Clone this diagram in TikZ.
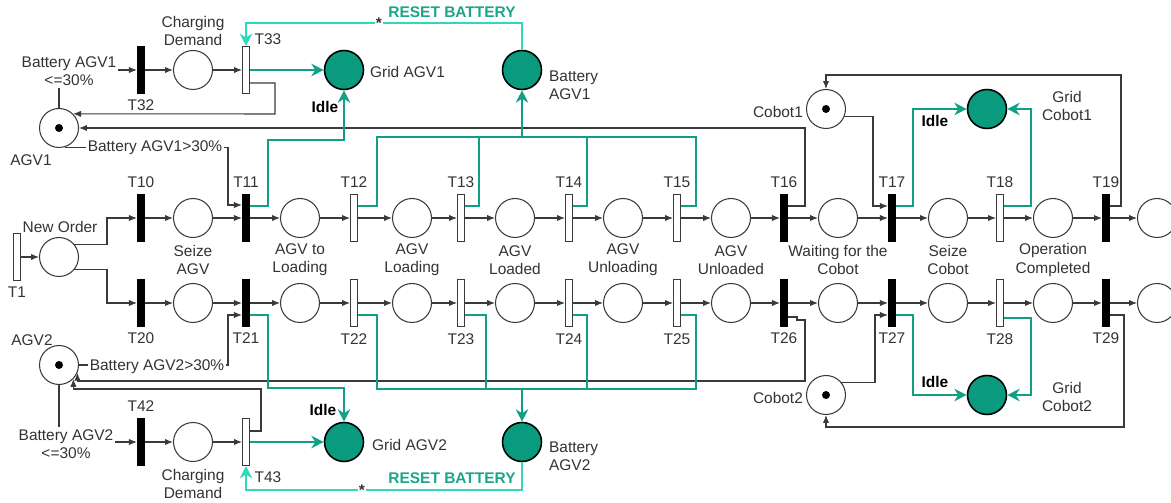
\documentclass[tikz,border=0pt]{standalone}
\usepackage{fontspec}
\setmainfont{Liberation Sans}
\usetikzlibrary{arrows.meta,positioning}
\definecolor{linec}{HTML}{3A3A3A}
\definecolor{textc}{HTML}{333333}
\definecolor{tealc}{HTML}{119F85}
\definecolor{gridc}{HTML}{0A9A7D}
\definecolor{resetc}{HTML}{2FD8B8}
\definecolor{resettxt}{HTML}{1BA68A}
\newcommand{\lbfont}{\fontsize{8.8}{10.3}\selectfont}

\begin{document}
\begin{tikzpicture}[x=0.02cm, y=-0.02cm,
  pnode/.style={circle, draw=linec, line width=0.6pt, fill=white, minimum size=0.78cm, inner sep=0pt},
  gnode/.style={circle, draw=black, line width=0.9pt, fill=gridc, minimum size=0.78cm, inner sep=0pt},
  tbar/.style={rectangle, draw=black, fill=black, minimum width=0.15cm, minimum height=0.94cm, inner sep=0pt},
  obar/.style={rectangle, draw=linec, line width=0.6pt, fill=white, minimum width=0.14cm, minimum height=0.94cm, inner sep=0pt},
  every label/.style={font=\lbfont, text=textc},
  lbl/.style={font=\lbfont, text=textc, align=center, inner sep=1pt},
  idle/.style={font=\lbfont\bfseries, text=black, inner sep=1pt},
  arr/.style={-{Latex[length=4.5pt,width=3.6pt]}, linec, line width=0.6pt},
  lnk/.style={linec, line width=0.6pt},
  tarr/.style={-{Stealth[length=7pt,width=7pt,inset=2.2pt]}, tealc, line width=1.3pt},
  tlink/.style={tealc, line width=1.3pt},
  rarr/.style={-{Stealth[length=7pt,width=7pt,inset=2.2pt]}, resetc, line width=1.4pt}
]
  \useasboundingbox (0,0) rectangle (1171,503);
  \clip (0,0) rectangle (1171,503);

  % order start
  \node[obar, label=below:T1] (T1) at (17,257) {};
  \node[pnode] (pNew) at (59,257) {};
  \node[lbl] (lNew) at (60,227) {New Order};

  % first AGV row
  \node[tbar, label=above:T10] (T10) at (141,218) {};
  \node[pnode] (pSeize1) at (193,218) {};
  \node[tbar, label=above:T11] (T11) at (246,218) {};
  \node[pnode] (pToLoad1) at (300,218) {};
  \node[obar, label=above:T12] (T12) at (354,218) {};
  \node[pnode] (pLoading1) at (412,218) {};
  \node[obar, label=above:T13] (T13) at (461,218) {};
  \node[pnode] (pLoaded1) at (515,218) {};
  \node[obar, label=above:T14] (T14) at (569,218) {};
  \node[pnode] (pUnloading1) at (623,218) {};
  \node[obar, label=above:T15] (T15) at (677,218) {};
  \node[pnode] (pUnloaded1) at (731,218) {};
  \node[tbar, label=above:T16] (T16) at (784,218) {};
  \node[pnode] (pWait1) at (838,218) {};
  \node[tbar, label=above:T17] (T17) at (892,218) {};
  \node[pnode] (pSeizeC1) at (948,218) {};
  \node[obar, label=above:T18] (T18) at (1000,218) {};
  \node[pnode] (pDone1) at (1053,218) {};
  \node[tbar, label=above:T19] (T19) at (1106,218) {};
  \node[pnode] (pEnd1) at (1157,218) {};

  % second AGV row
  \node[tbar, label=below:T20] (T20) at (141,303) {};
  \node[pnode] (pSeize2) at (193,303) {};
  \node[tbar, label=below:T21] (T21) at (246,303) {};
  \node[pnode] (pToLoad2) at (300,303) {};
  \node[obar, label=below:T22] (T22) at (354,303) {};
  \node[pnode] (pLoading2) at (412,303) {};
  \node[obar, label=below:T23] (T23) at (461,303) {};
  \node[pnode] (pLoaded2) at (515,303) {};
  \node[obar, label=below:T24] (T24) at (569,303) {};
  \node[pnode] (pUnloading2) at (623,303) {};
  \node[obar, label=below:T25] (T25) at (677,303) {};
  \node[pnode] (pUnloaded2) at (731,303) {};
  \node[tbar, label=below:T26] (T26) at (784,303) {};
  \node[pnode] (pWait2) at (838,303) {};
  \node[tbar, label=below:T27] (T27) at (892,303) {};
  \node[pnode] (pSeizeC2) at (948,303) {};
  \node[obar, label=below:T28] (T28) at (1000,303) {};
  \node[pnode] (pDone2) at (1053,303) {};
  \node[tbar, label=below:T29] (T29) at (1106,303) {};
  \node[pnode] (pEnd2) at (1157,303) {};

  % state names between the rows
  \node[lbl] (nSeize) at (193,260) {Seize\\AGV};
  \node[lbl] (nToLoad) at (300,260) {AGV to\\Loading};
  \node[lbl] (nLoading) at (412,260) {AGV\\Loading};
  \node[lbl] (nLoaded) at (515,260) {AGV\\Loaded};
  \node[lbl] (nUnloading) at (623,260) {AGV\\Unloading};
  \node[lbl] (nUnloaded) at (731,260) {AGV\\Unloaded};
  \node[lbl] (nWait) at (838,260) {Waiting for the\\Cobot};
  \node[lbl] (nSeizeC) at (948,260) {Seize\\Cobot};
  \node[lbl] (nDone) at (1053,260) {Operation\\Completed};

  % AGV1 and its charging loop
  \node[pnode] (AGV1) at (59,128) {};
  \fill[black] (AGV1) circle[radius=0.08cm];
  \node[lbl] (lAGV1) at (31,160) {AGV1};
  \node[lbl] (lowA1) at (69,71) {Battery AGV1\\<=30\%};
  \node[tbar, label=below:T32] (T32) at (141,70) {};
  \node[pnode] (chA1) at (193,70) {};
  \node[lbl] (lChA1) at (193,31) {Charging\\Demand};
  \node[obar] (T33) at (246,70) {};
  \node[lbl] (lT33) at (268,39) {T33};
  \node[gnode] (gridA1) at (344,70) {};
  \node[lbl, anchor=west] (lGridA1) at (368,72) {Grid AGV1};
  \node[gnode] (batA1) at (522,70) {};
  \node[lbl, anchor=west, align=left] (lBatA1) at (547,85) {Battery\\AGV1};
  \node[idle] (idA1) at (325,107) {Idle};

  % AGV2 and its charging loop
  \node[pnode] (AGV2) at (59,365) {};
  \fill[black] (AGV2) circle[radius=0.08cm];
  \node[lbl] (lAGV2) at (32,340) {AGV2};
  \node[lbl] (lowA2) at (66,444) {Battery AGV2\\<=30\%};
  \node[tbar, label=above:T42] (T42) at (141,442) {};
  \node[pnode] (chA2) at (193,442) {};
  \node[lbl] (lChA2) at (193,484) {Charging\\Demand};
  \node[obar] (T43) at (246,442) {};
  \node[lbl] (lT43) at (268,477) {T43};
  \node[gnode] (gridA2) at (344,442) {};
  \node[lbl, anchor=west] (lGridA2) at (370,445) {Grid AGV2};
  \node[gnode] (batA2) at (522,442) {};
  \node[lbl, anchor=west, align=left] (lBatA2) at (547,456) {Battery\\AGV2};
  \node[idle] (idA2) at (323,410) {Idle};

  % cobots
  \node[pnode] (cob1) at (826,109) {};
  \fill[black] (cob1) circle[radius=0.08cm];
  \node[lbl, anchor=east] (lCob1) at (805,112) {Cobot1};
  \node[gnode] (gridC1) at (987,109) {};
  \node[lbl] (lGridC1) at (1067,106) {Grid\\Cobot1};
  \node[idle] (idC1) at (935,121) {Idle};
  \node[pnode] (cob2) at (826,395) {};
  \fill[black] (cob2) circle[radius=0.08cm];
  \node[lbl, anchor=east] (lCob2) at (805,398) {Cobot2};
  \node[gnode] (gridC2) at (987,395) {};
  \node[lbl] (lGridC2) at (1067,397) {Grid\\Cobot2};
  \node[idle] (idC2) at (935,382) {Idle};

  % order split
  \draw[arr] (T1) -- (pNew);
  \draw[arr] (pNew.40) -| (107,230) |- (T10);
  \draw[arr] (pNew.-40) -| (107,280) |- (T20);

  % main chains
  \draw[arr] (T10) -- (pSeize1);  \draw[arr] (pSeize1) -- (T11);
  \draw[arr] (T11) -- (pToLoad1); \draw[arr] (pToLoad1) -- (T12);
  \draw[arr] (T12) -- (pLoading1); \draw[arr] (pLoading1) -- (T13);
  \draw[arr] (T13) -- (pLoaded1); \draw[arr] (pLoaded1) -- (T14);
  \draw[arr] (T14) -- (pUnloading1); \draw[arr] (pUnloading1) -- (T15);
  \draw[arr] (T15) -- (pUnloaded1); \draw[arr] (pUnloaded1) -- (T16);
  \draw[arr] (T16) -- (pWait1); \draw[arr] (pWait1) -- (T17);
  \draw[arr] (T17) -- (pSeizeC1); \draw[arr] (pSeizeC1) -- (T18);
  \draw[arr] (T18) -- (pDone1); \draw[arr] (pDone1) -- (T19);
  \draw[arr] (T19) -- (pEnd1);
  \draw[arr] (T20) -- (pSeize2);  \draw[arr] (pSeize2) -- (T21);
  \draw[arr] (T21) -- (pToLoad2); \draw[arr] (pToLoad2) -- (T22);
  \draw[arr] (T22) -- (pLoading2); \draw[arr] (pLoading2) -- (T23);
  \draw[arr] (T23) -- (pLoaded2); \draw[arr] (pLoaded2) -- (T24);
  \draw[arr] (T24) -- (pUnloading2); \draw[arr] (pUnloading2) -- (T25);
  \draw[arr] (T25) -- (pUnloaded2); \draw[arr] (pUnloaded2) -- (T26);
  \draw[arr] (T26) -- (pWait2); \draw[arr] (pWait2) -- (T27);
  \draw[arr] (T27) -- (pSeizeC2); \draw[arr] (pSeizeC2) -- (T28);
  \draw[arr] (T28) -- (pDone2); \draw[arr] (pDone2) -- (T29);
  \draw[arr] (T29) -- (pEnd2);

  % AGV1 links
  \draw[lnk] (AGV1.north) -- (AGV1.north |- lowA1.south);
  \draw[arr] (lowA1.east |- T32) -- (T32);
  \draw[arr] (T32) -- (chA1);
  \draw[arr] (chA1) -- (T33);
  \draw[arr] (T33.east |- 0,83) -| (275,114) -- (AGV1.45);
  \draw[arr] (T16.east |- 0,206) -| (805,128) -- (AGV1);
  \draw[arr] (AGV1.-72) -| (228,205) -- (T11.west |- 0,205);
  \node[lbl, fill=white] (gtA1) at (155,148) {Battery AGV1>30\%};

  % AGV2 links
  \draw[lnk] (AGV2.south) -- (AGV2.south |- lowA2.north);
  \draw[arr] (lowA2.east |- T42) -- (T42);
  \draw[arr] (T42) -- (chA2);
  \draw[arr] (chA2) -- (T43);
  \draw[arr] (T43.east |- 0,431) -| (261,389) -| (AGV2.-44);
  \draw[arr] (T26.east |- 0,317) -| (797,320) -| (805,381) -| (AGV2.-23);
  \draw[arr] (AGV2.east) -| (228,315) -- (T21.west |- 0,315);
  \node[lbl, fill=white] (gtA2) at (157,367) {Battery AGV2>30\%};

  % cobot links
  \draw[arr] (T19.east |- 0,206) -| (1121,75) -| (cob1);
  \draw[arr] (cob1.-23) -| (873,206) -- (T17.west |- 0,206);
  \draw[arr] (T29.east |- 0,315) -| (1124,427) -| (cob2);
  \draw[arr] (cob2.40) -| (875,315) -- (T27.west |- 0,315);

  % energy arcs, AGV1
  \draw[tarr] (T33) -- (gridA1);
  \draw[tarr] (T11.east |- 0,206) -| (268,140) -| (gridA1);
  \draw[tlink] (T12.east |- 0,206) -| (377,137) -| (696,206) -- (T15.east |- 0,206);
  \draw[tlink] (T13.east |- 0,206) -| (479,137);
  \draw[tlink] (T14.east |- 0,206) -| (587,137);
  \draw[tarr] (522,137) -- (batA1);
  \draw[rarr] (batA1) |- (T33.north |- 0,23) -- (T33.north);
  \node[font=\lbfont\bfseries, text=textc, fill=white, inner sep=0.6pt] (stA1) at (379,23) {*};
  \node[font=\lbfont\bfseries, text=resettxt] (rsA1) at (452,12) {RESET BATTERY};

  % energy arcs, AGV2
  \draw[tarr] (T43) -- (gridA2);
  \draw[tarr] (T21.east |- 0,315) -| (268,388) -| (gridA2);
  \draw[tlink] (T22.east |- 0,315) -| (377,389) -| (696,315) -- (T25.east |- 0,315);
  \draw[tlink] (T23.east |- 0,315) -| (486,389);
  \draw[tlink] (T24.east |- 0,315) -| (587,389);
  \draw[tarr] (522,389) -- (batA2);
  \draw[rarr] (batA2) |- (T43.south |- 0,490) -- (T43.south);
  \node[font=\lbfont\bfseries, text=textc, fill=white, inner sep=0.6pt] (stA2) at (362,490) {*};
  \node[font=\lbfont\bfseries, text=resettxt] (rsA2) at (452,478) {RESET BATTERY};

  % energy arcs, cobots
  \draw[tarr] (T17.east |- 0,206) -| (913,109) -- (gridC1);
  \draw[tarr] (T18.east |- 0,206) -| (1031,109) -- (gridC1);
  \draw[tarr] (T27.east |- 0,315) -| (913,395) -- (gridC2);
  \draw[tarr] (T28.east |- 0,318) -| (1031,395) -- (gridC2);
\end{tikzpicture}
\end{document}
